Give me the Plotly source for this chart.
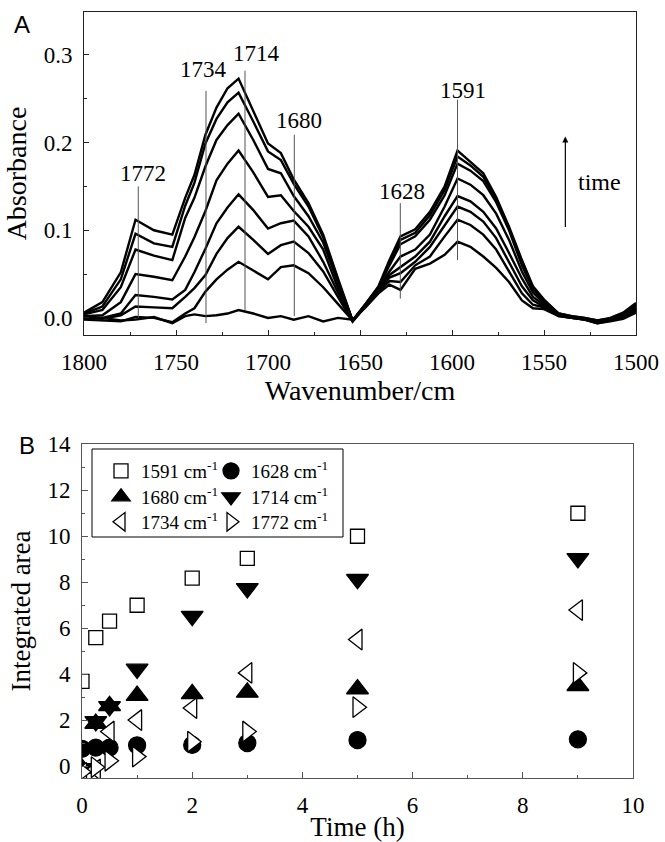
import plotly.graph_objects as go

# ---------------- Panel A data: IR spectra (8 time steps, top = latest) ----------------
wavenumber = [1800, 1790, 1780, 1772, 1762, 1752, 1745, 1740, 1734, 1728,
              1722, 1716, 1708, 1700, 1693, 1686, 1678, 1670, 1662, 1654,
              1647, 1640, 1634, 1628, 1620, 1612, 1604, 1597, 1590, 1583,
              1576, 1569, 1562, 1556, 1550, 1542, 1535, 1528, 1521, 1514,
              1507, 1500]

spec_1 = [0.006, 0.018, 0.052, 0.112, 0.100, 0.095, 0.137, 0.163, 0.209, 0.240,
          0.262, 0.273, 0.236, 0.199, 0.188, 0.158, 0.131, 0.095, 0.045, -0.003,
          0.016, 0.036, 0.066, 0.093, 0.101, 0.121, 0.150, 0.191, 0.178, 0.165,
          0.138, 0.104, 0.066, 0.036, 0.021, 0.005, 0.002, 0.000, -0.003, 0.000,
          0.006, 0.017]
spec_2 = [0.005, 0.013, 0.044, 0.096, 0.085, 0.081, 0.128, 0.154, 0.199, 0.227,
          0.246, 0.257, 0.224, 0.190, 0.180, 0.153, 0.127, 0.092, 0.043, -0.003,
          0.016, 0.035, 0.063, 0.089, 0.097, 0.117, 0.146, 0.184, 0.174, 0.161,
          0.136, 0.102, 0.064, 0.035, 0.020, 0.005, 0.002, 0.000, -0.003, -0.001,
          0.005, 0.015]
spec_3 = [0.004, 0.009, 0.035, 0.078, 0.071, 0.066, 0.114, 0.137, 0.173, 0.203,
          0.220, 0.233, 0.203, 0.170, 0.165, 0.139, 0.116, 0.086, 0.040, -0.003,
          0.015, 0.034, 0.060, 0.084, 0.093, 0.112, 0.140, 0.176, 0.168, 0.156,
          0.132, 0.100, 0.060, 0.033, 0.019, 0.004, 0.001, -0.001, -0.004, -0.001,
          0.004, 0.014]
spec_4 = [0.002, 0.003, 0.018, 0.050, 0.047, 0.043, 0.070, 0.092, 0.122, 0.157,
          0.176, 0.191, 0.166, 0.138, 0.140, 0.122, 0.104, 0.078, 0.034, -0.004,
          0.014, 0.033, 0.053, 0.070, 0.078, 0.095, 0.127, 0.159, 0.152, 0.140,
          0.119, 0.089, 0.053, 0.029, 0.017, 0.004, 0.001, -0.001, -0.004, -0.002,
          0.003, 0.012]
spec_5 = [0.000, 0.000, 0.005, 0.026, 0.024, 0.021, 0.032, 0.052, 0.079, 0.108,
          0.126, 0.141, 0.123, 0.102, 0.108, 0.111, 0.093, 0.064, 0.029, -0.003,
          0.014, 0.032, 0.049, 0.058, 0.070, 0.087, 0.116, 0.139, 0.133, 0.121,
          0.102, 0.074, 0.045, 0.024, 0.015, 0.003, 0.001, -0.001, -0.005, -0.002,
          0.002, 0.010]
spec_6 = [0.000, -0.001, 0.003, 0.013, 0.012, 0.011, 0.024, 0.034, 0.049, 0.073,
          0.091, 0.104, 0.089, 0.073, 0.083, 0.087, 0.074, 0.053, 0.024, -0.004,
          0.013, 0.031, 0.046, 0.051, 0.064, 0.081, 0.106, 0.127, 0.121, 0.110,
          0.091, 0.064, 0.036, 0.020, 0.013, 0.003, 0.000, -0.002, -0.005, -0.003,
          0.001, 0.009]
spec_7 = [-0.002, -0.003, -0.004, 0.001, 0.000, -0.005, 0.005, 0.011, 0.030, 0.044,
          0.055, 0.064, 0.054, 0.044, 0.058, 0.060, 0.051, 0.035, 0.016, -0.003,
          0.013, 0.030, 0.042, 0.041, 0.060, 0.070, 0.093, 0.112, 0.106, 0.095,
          0.078, 0.053, 0.028, 0.015, 0.012, 0.002, 0.000, -0.002, -0.006, -0.003,
          0.000, 0.008]
spec_8 = [0.002, 0.000, -0.003, -0.002, 0.001, -0.006, 0.002, 0.004, 0.002, 0.003,
          0.005, 0.009, 0.005, 0.000, 0.002, -0.002, 0.002, -0.004, 0.000, -0.002,
          0.012, 0.028, 0.038, 0.032, 0.056, 0.062, 0.072, 0.087, 0.081, 0.070,
          0.057, 0.041, 0.020, 0.011, 0.010, 0.002, 0.000, -0.002, -0.006, -0.004,
          -0.001, 0.006]
spectra = [spec_1, spec_2, spec_3, spec_4, spec_5, spec_6, spec_7, spec_8]

# peak marker lines and labels
peak_labels = ["1772", "1734", "1714", "1680", "1628", "1591"]
peak_line_x = [1770.5, 1733.7, 1712.5, 1685.7, 1628.1, 1597.0]
peak_line_top = [0.150, 0.259, 0.282, 0.209, 0.131, 0.249]
peak_line_bottom = [0.000, -0.006, 0.009, 0.002, 0.022, 0.066]
peak_label_x = [1768.0, 1735.0, 1706.5, 1683.0, 1627.0, 1594.0]
peak_label_y = [0.165, 0.283, 0.302, 0.225, 0.144, 0.260]

# ---------------- Panel B data: integrated areas ----------------
time_h = [0, 0.25, 0.5, 1, 2, 3, 5, 9]
area_1591 = [3.68, 5.58, 6.30, 6.99, 8.17, 9.03, 9.99, 10.99]
area_1628 = [0.75, 0.80, 0.80, 0.90, 0.92, 1.00, 1.13, 1.16]
area_1680 = [-0.10, 1.85, 2.62, 3.06, 3.14, 3.20, 3.35, 3.49]
area_1714 = [-0.10, 1.94, 2.59, 4.22, 6.52, 7.72, 8.12, 9.03]
area_1734 = [-0.30, -0.15, 1.50, 2.00, 2.52, 4.05, 5.50, 6.78]
area_1772 = [-0.25, -0.05, 0.23, 0.41, 1.06, 1.50, 2.56, 4.05]

band_names = ["1591", "1628", "1680", "1714", "1734", "1772"]
band_areas = [area_1591, area_1628, area_1680, area_1714, area_1734, area_1772]
band_symbols = ["square", "circle", "triangle-up", "triangle-down", "triangle-left", "triangle-right"]
band_fill = ["white", "black", "black", "black", "white", "white"]
band_size = [14, 17, 19, 19, 18, 18]
band_legend = ["legend", "legend2", "legend3", "legend4", "legend5", "legend6"]
# legend grid: column left pixel, row centre pixel (2 columns x 3 rows)
legend_col_px = [101, 211, 101, 211, 101, 211]
legend_row_px = [471, 471, 497, 497, 522, 522]

# ---------------- layout helpers ----------------
FW, FH = 665, 842
def fx(p):
    return p / FW
def fy(p):
    return 1 - p / FH

SERIF = "Liberation Serif, Times New Roman, serif"
SANS = "Liberation Sans, Arial, sans-serif"

fig = go.Figure()

for s in spectra:
    fig.add_trace(go.Scatter(x=wavenumber, y=s, mode="lines",
                             line=dict(color="black", width=2.4),
                             showlegend=False, xaxis="x", yaxis="y",
                             hoverinfo="skip"))

for lx, lt, lb in zip(peak_line_x, peak_line_top, peak_line_bottom):
    fig.add_trace(go.Scatter(x=[lx, lx], y=[lb, lt], mode="lines",
                             line=dict(color="#555555", width=1),
                             showlegend=False, xaxis="x", yaxis="y",
                             hoverinfo="skip"))

for name, vals, sym, fill, sz, lg in zip(band_names, band_areas, band_symbols,
                                         band_fill, band_size, band_legend):
    fig.add_trace(go.Scatter(x=time_h, y=vals, mode="markers",
                             name=name + " cm<sup>-1</sup>",
                             marker=dict(symbol=sym, size=sz, color=fill,
                                         line=dict(color="black", width=1.3)),
                             xaxis="x2", yaxis="y2", legend=lg))

annotations = []
for lab, xx, yy in zip(peak_labels, peak_label_x, peak_label_y):
    annotations.append(dict(x=xx, y=yy, xref="x", yref="y", text=lab,
                            showarrow=False, xanchor="center", yanchor="middle",
                            font=dict(family=SERIF, size=23, color="black")))
# time arrow
annotations.append(dict(x=1538.4, y=0.207, ax=1538.4, ay=0.102, xref="x", yref="y",
                        axref="x", ayref="y", text="", showarrow=True,
                        arrowhead=2, arrowsize=1, arrowwidth=1.2, arrowcolor="black"))
annotations.append(dict(x=1520, y=0.155, xref="x", yref="y", text="time",
                        showarrow=False, xanchor="center", yanchor="middle",
                        font=dict(family=SERIF, size=24, color="black")))
# panel letters
annotations.append(dict(x=fx(22), y=fy(25), xref="paper", yref="paper", text="A",
                        showarrow=False, xanchor="center", yanchor="middle",
                        font=dict(family=SANS, size=24, color="black")))
annotations.append(dict(x=fx(27), y=fy(445), xref="paper", yref="paper", text="B",
                        showarrow=False, xanchor="center", yanchor="middle",
                        font=dict(family=SANS, size=24, color="black")))

def axis_common(lc):
    return dict(showline=True, mirror=True, linecolor=lc, linewidth=1,
                ticks="inside", tickcolor=lc, showgrid=False, zeroline=False,
                automargin=False,
                tickfont=dict(family=SERIF, size=23, color="black"))

legends = {}
for lg, cx, ry in zip(band_legend, legend_col_px, legend_row_px):
    legends[lg] = dict(x=fx(cx), y=fy(ry), xanchor="left", yanchor="middle",
                       bgcolor="rgba(0,0,0,0)", borderwidth=0,
                       font=dict(family=SERIF, size=19, color="black"))

fig.update_layout(
    template="none",
    width=FW, height=FH,
    margin=dict(l=0, r=0, t=0, b=0, pad=0),
    paper_bgcolor="white", plot_bgcolor="white",
    xaxis=dict(domain=[fx(84), fx(636)], anchor="y", range=[1800, 1500],
               dtick=50, tick0=0, ticklen=5, ticklabelstandoff=6,
               minor=dict(ticks="inside", dtick=25, ticklen=3, tickcolor="#222222"),
               title=dict(text="Wavenumber/cm", standoff=4,
                          font=dict(family=SERIF, size=28, color="black")),
               **axis_common("#222222")),
    yaxis=dict(domain=[fy(335), fy(12)], anchor="x", range=[-0.0195, 0.349],
               dtick=0.1, tick0=0, tickformat=".1f", ticklen=5, ticklabelstandoff=6,
               minor=dict(ticks="inside", dtick=0.05, ticklen=3, tickcolor="#222222"),
               title=dict(text="Absorbance", standoff=8,
                          font=dict(family=SERIF, size=28, color="black")),
               **axis_common("#222222")),
    xaxis2=dict(domain=[fx(82), fx(633)], anchor="y2", range=[0, 10],
                dtick=2, tick0=0, ticklen=6, ticklabelstandoff=6,
                minor=dict(ticks="inside", dtick=1, ticklen=3, tickcolor="#555555"),
                title=dict(text="Time (h)", standoff=6,
                           font=dict(family=SERIF, size=27, color="black")),
                **axis_common("#555555")),
    yaxis2=dict(domain=[fy(778), fy(444)], anchor="x2", range=[-0.52, 14],
                dtick=2, tick0=0, ticklen=6, ticklabelstandoff=6,
                minor=dict(ticks="inside", dtick=1, ticklen=3, tickcolor="#555555"),
                title=dict(text="Integrated area", standoff=8,
                           font=dict(family=SERIF, size=27, color="black")),
                **axis_common("#555555")),
    annotations=annotations,
    shapes=[dict(type="rect", xref="paper", yref="paper",
                 x0=fx(92), x1=fx(343), y0=fy(537), y1=fy(449),
                 line=dict(color="black", width=1), fillcolor="rgba(0,0,0,0)")],
    showlegend=True,
    **legends,
)

fig.write_html("out.html")
